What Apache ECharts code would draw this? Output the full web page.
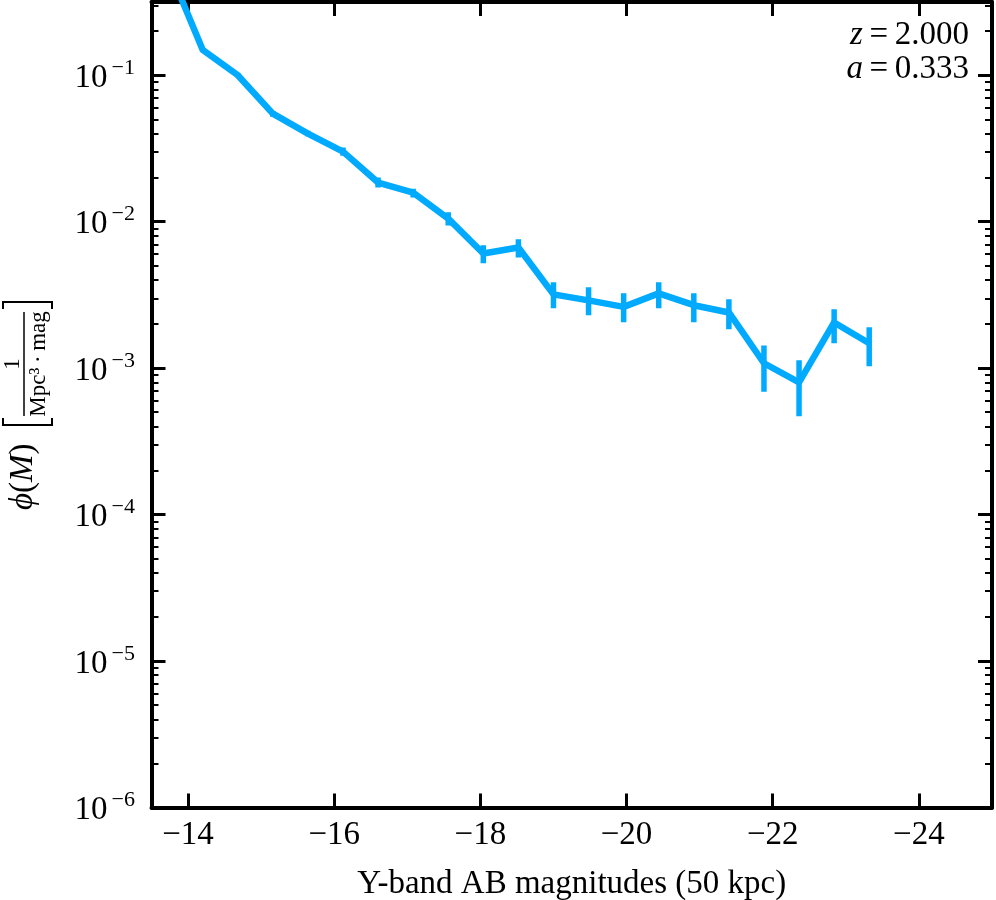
<!DOCTYPE html>
<html>
<head>
<meta charset="utf-8">
<script src="https://cdn.jsdelivr.net/npm/echarts@6/dist/echarts.min.js"></script>
<style>
  html, body { margin: 0; padding: 0; background: #fff; }
  #chart { width: 996px; height: 900px; }
</style>
</head>
<body>
<div id="chart"></div>
<script>
// bins of the luminosity function (AB mag)
var mags = [-13.72, -14.20, -14.68, -15.16, -15.64, -16.12, -16.60, -17.08, -17.56, -18.04, -18.52,
            -19.00, -19.48, -19.96, -20.44, -20.92, -21.40, -21.88, -22.36, -22.84, -23.32];
// phi(M) in 1/(Mpc^3 mag)
var phi = [0.56, 0.149, 0.100, 0.0547, 0.0399, 0.0301, 0.0185, 0.0158, 0.0105, 0.00607, 0.00667,
           0.00319, 0.00290, 0.00262, 0.00324, 0.00269, 0.00240, 0.00108, 0.00080, 0.00205, 0.00148];
// error bar ends
var errLow = [0.54, 0.145, 0.097, 0.052, 0.0383, 0.0282, 0.0171, 0.0146, 0.0094, 0.0052, 0.0057,
              0.00256, 0.0023, 0.00206, 0.00256, 0.00206, 0.00184, 0.00069, 0.00047, 0.00148, 0.00103];
var errHigh = [0.58, 0.153, 0.103, 0.057, 0.0417, 0.0321, 0.0200, 0.0168, 0.0116, 0.0069, 0.0076,
               0.00386, 0.00356, 0.00324, 0.00386, 0.00324, 0.00295, 0.00143, 0.00113, 0.00252, 0.0019];

var xTicks = [-14, -16, -18, -20, -22, -24];
var yMajor = [-6, -5, -4, -3, -2, -1];          // log10 of the decades
var yMinor = [];                                 // log10 of 2..9 x 10^n
[-6, -5, -4, -3, -2, -1].forEach(function (d) {
    [2, 3, 4, 5, 6, 7, 8, 9].forEach(function (m) {
        var v = d + Math.log10(m);
        if (v <= -0.5) yMinor.push(v);
    });
});

var FONT = 'Liberation Serif';
var BLUE = '#00aaff';
var LOGMIN = -6, LOGMAX = -0.5;

function tickAxis(pos, vals, len, width, showLine) {
    return {
        type: 'value', position: pos, min: LOGMIN, max: LOGMAX,
        axisLine: { show: showLine, onZero: false, lineStyle: { color: '#000', width: 4 } },
        axisTick: { show: true, inside: true, length: len, customValues: vals, lineStyle: { color: '#000', width: width } },
        axisLabel: { show: false },
        splitLine: { show: false }
    };
}

var lineData = mags.map(function (m, i) { return [m, phi[i]]; });
var errData = mags.map(function (m, i) { return [m, errLow[i], errHigh[i]]; });

var myChart = echarts.init(document.getElementById('chart'), null, { renderer: 'canvas' });
var option = {
    backgroundColor: '#fff',
    animation: false,
    grid: { left: 151.5, right: 4, top: 2, bottom: 92.5, containLabel: false, outerBoundsMode: 'none' },
    xAxis: [{
        type: 'value', position: 'bottom', inverse: true, min: -25, max: -13.5,
        name: 'Y-band AB magnitudes (50 kpc)', nameLocation: 'middle', nameGap: 60,
        nameTextStyle: { fontFamily: FONT, fontSize: 33, color: '#000' },
        axisLine: { onZero: false, lineStyle: { color: '#000', width: 4 } },
        axisTick: { inside: true, length: 14, customValues: xTicks, lineStyle: { color: '#000', width: 3 } },
        axisLabel: {
            customValues: xTicks, margin: 11, fontFamily: FONT, fontSize: 33, color: '#000',
            formatter: function (v) { return '\u2212' + Math.abs(v); }
        },
        splitLine: { show: false }
    }, {
        type: 'value', position: 'top', inverse: true, min: -25, max: -13.5,
        axisLine: { onZero: false, lineStyle: { color: '#000', width: 4 } },
        axisTick: { inside: true, length: 14, customValues: xTicks, lineStyle: { color: '#000', width: 3 } },
        axisLabel: { show: false },
        splitLine: { show: false }
    }],
    yAxis: [{
        // data axis
        type: 'log', logBase: 10, min: 1e-6, max: Math.pow(10, LOGMAX), show: false,
        splitLine: { show: false }
    },
    (function () {
        var a = tickAxis('left', yMajor, 14, 3, true);
        a.axisLabel = {
            show: true, customValues: yMajor, margin: 16,
            fontFamily: FONT, fontSize: 33, color: '#000',
            formatter: function (v) { return '{base|10}{sup|\u2212' + Math.abs(v) + '}{sp| }'; },
            rich: {
                base: { fontFamily: FONT, fontSize: 33, color: '#000', height: 24, lineHeight: 24, verticalAlign: 'bottom' },
                sup: { fontFamily: FONT, fontSize: 22, color: '#000', height: 16, lineHeight: 16, verticalAlign: 'top', padding: [0, 0, 0, 4] },
                sp: { fontFamily: FONT, fontSize: 2, lineHeight: 30 }
            }
        };
        return a;
    })(),
    tickAxis('left', yMinor, 7, 2, false),
    tickAxis('right', yMajor, 14, 3, true),
    tickAxis('right', yMinor, 7, 2, false)
    ],
    series: [{
        type: 'line', xAxisIndex: 0, yAxisIndex: 0, data: lineData,
        symbol: 'none', clip: true,
        lineStyle: { color: BLUE, width: 6.5, join: 'round' },
        z: 3
    }, {
        type: 'custom', xAxisIndex: 0, yAxisIndex: 0, data: errData, clip: true,
        encode: { x: 0, y: [1, 2] },
        renderItem: function (params, api) {
            var p0 = api.coord([api.value(0), api.value(1)]);
            var p1 = api.coord([api.value(0), api.value(2)]);
            return {
                type: 'line',
                shape: { x1: p0[0], y1: p0[1], x2: p1[0], y2: p1[1] },
                style: { stroke: BLUE, lineWidth: 5.5 }
            };
        },
        z: 3
    }],
    graphic: [{
        type: 'text', right: 27, top: 18,
        style: {
            text: '{i|z}\u2009=\u20092.000\n{i|a}\u2009=\u20090.333',
            fontFamily: FONT, fontSize: 33, fill: '#000', align: 'right', textAlign: 'right', lineHeight: 34,
            rich: { i: { fontFamily: FONT, fontSize: 33, fontStyle: 'italic', lineHeight: 34 } }
        }
    }, {
        // y axis title, rotated
        type: 'group', x: 23, y: 510, rotation: Math.PI / 2,
        children: [{
            type: 'text', x: 0, y: 0,
            style: {
                text: '{i|\u03d5}({i|M})', fontFamily: FONT, fontSize: 33, fill: '#000',
                align: 'left', textAlign: 'left', verticalAlign: 'middle', textVerticalAlign: 'middle',
                rich: { i: { fontFamily: FONT, fontSize: 33, fontStyle: 'italic' } }
            }
        }, {
            type: 'polyline', shape: { points: [[92, -20], [85, -20], [85, 29], [92, 29]] },
            style: { stroke: '#000', lineWidth: 2, fill: null }
        }, {
            type: 'polyline', shape: { points: [[201, -20], [208, -20], [208, 29], [201, 29]] },
            style: { stroke: '#000', lineWidth: 2, fill: null }
        }, {
            type: 'line', shape: { x1: 94, y1: 1, x2: 198, y2: 1 },
            style: { stroke: '#000', lineWidth: 1.5 }
        }, {
            type: 'text', x: 146, y: -10,
            style: {
                text: '1', fontFamily: FONT, fontSize: 23, fill: '#000',
                align: 'center', textAlign: 'center', verticalAlign: 'middle', textVerticalAlign: 'middle'
            }
        }, {
            type: 'text', x: 146, y: 16,
            style: {
                text: 'Mpc\u00b3\u2009\u00b7\u2009mag', fontFamily: FONT, fontSize: 23, fill: '#000',
                align: 'center', textAlign: 'center', verticalAlign: 'middle', textVerticalAlign: 'middle'
            }
        }]
    }]
};
myChart.setOption(option);
</script>
</body>
</html>
